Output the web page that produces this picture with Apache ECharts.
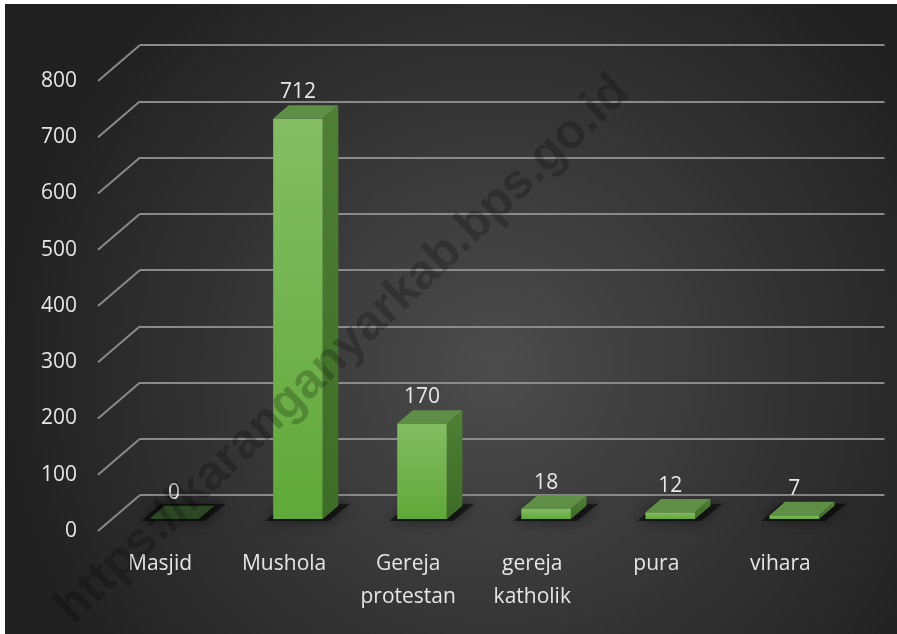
<!DOCTYPE html>
<html>
<head>
<meta charset="utf-8">
<script src="https://cdn.jsdelivr.net/npm/echarts@6/dist/echarts.min.js"></script>
<style>
  html, body { margin: 0; padding: 0; background: #fff; }
  #chart { position: absolute; left: 5px; top: 4px; width: 892px; height: 630px; }
</style>
</head>
<body>
<div id="chart"></div>
<script>
// data
const categories = ['Masjid', 'Mushola', 'Gereja\nprotestan', 'gereja\nkatholik', 'pura', 'vihara'];
const values = [0, 712, 170, 18, 12, 7];
const yTicks = [0, 100, 200, 300, 400, 500, 600, 700, 800];

// 3D look: depth vector from back wall to front edge
const DX = -42, DY = 36;
const F_FRONT = 0.67, F_BACK = 0.3;
const BAR_W = 0.4;
const FONT = 'Open Sans';

const chart = echarts.init(document.getElementById('chart'));

function renderBar(params, api) {
  const i = api.value(0), v = api.value(1);
  const top = api.coord([i, v]);
  const base = api.coord([i, 0]);
  const hw = api.size([1, 0])[0] * BAR_W / 2;
  const fx = DX * F_FRONT, fy = DY * F_FRONT;
  const bx = DX * F_BACK, by = DY * F_BACK;
  const xl = top[0] - hw, xr = top[0] + hw;
  const children = [];
  // soft shadow on the floor
  children.push({
    type: 'polygon',
    shape: { points: [[xl + fx - 8, base[1] + fy + 2], [xr + fx + 6, base[1] + fy + 2], [xr + bx + 12, base[1] + by - 2], [xl + bx - 4, base[1] + by - 2]] },
    style: { fill: 'rgba(0,0,0,0.55)', shadowBlur: 14, shadowColor: 'rgba(0,0,0,0.9)' }
  });
  if (v > 0) {
    children.push({
      type: 'rect',
      shape: { x: xl + fx, y: top[1] + fy, width: hw * 2, height: base[1] - top[1] },
      style: { fill: new echarts.graphic.LinearGradient(0, 0, 0, 1, [
        { offset: 0, color: '#84bd63' }, { offset: 1, color: '#60a839' }]) }
    });
    children.push({
      type: 'polygon',
      shape: { points: [[xr + fx, base[1] + fy], [xr + fx, top[1] + fy], [xr + bx, top[1] + by], [xr + bx, base[1] + by]] },
      style: { fill: new echarts.graphic.LinearGradient(0, 0, 0, 1, [
        { offset: 0, color: '#4f8036' }, { offset: 1, color: '#3d6c26' }]) }
    });
  }
  children.push({
    type: 'polygon',
    shape: { points: [[xl + fx, top[1] + fy], [xr + fx, top[1] + fy], [xr + bx, top[1] + by], [xl + bx, top[1] + by]] },
    style: { fill: v > 0 ? '#5f8e47' : '#2c4723' }
  });
  children.push({
    type: 'text',
    style: {
      x: top[0] + fx, y: top[1] + by - 13, text: String(v),
      align: 'center', verticalAlign: 'middle',
      fill: '#e8e8e8', fontFamily: FONT, fontSize: 21
    }
  });
  return { type: 'group', children: children };
}

function renderDiag(params, api) {
  const y = api.coord([0, api.value(1)])[1];
  const x = params.coordSys.x;
  return {
    type: 'line',
    shape: { x1: x, y1: y, x2: x + DX, y2: y + DY },
    style: { stroke: '#8a8a8a', lineWidth: 2 }
  };
}

chart.setOption({
  backgroundColor: {
    type: 'radial', x: 0.55, y: 0.58, r: 0.8,
    colorStops: [{ offset: 0, color: '#4c4c4c' }, { offset: 1, color: '#202020' }]
  },
  animation: false,
  grid: [
    // back wall
    { left: 135, right: 4, top: 41, height: 450 },
    // front edge, only carries the value labels
    { left: 135 + DX, right: 4 - DX, top: 41 + DY, height: 450 }
  ],
  xAxis: [{
    type: 'category',
    data: categories,
    axisLine: { show: false },
    axisTick: { show: false },
    axisLabel: {
      color: '#e6e6e6', fontFamily: FONT, fontSize: 21, lineHeight: 33,
      margin: 53, padding: [0, 84, 0, 0], interval: 0
    }
  }, {
    type: 'category', gridIndex: 1, data: categories, show: false
  }],
  yAxis: [{
    type: 'value',
    min: 0, max: 800, interval: 100,
    axisLine: { show: false },
    axisTick: { show: false },
    axisLabel: { show: false },
    splitLine: { lineStyle: { color: '#8a8a8a', width: 2 } }
  }, {
    type: 'value', gridIndex: 1,
    min: 0, max: 800, interval: 100,
    axisLine: { show: false },
    axisTick: { show: false },
    splitLine: { show: false },
    axisLabel: {
      color: '#e6e6e6', fontFamily: FONT, fontSize: 21, margin: 21,
      showMinLabel: true, showMaxLabel: true
    }
  }],
  graphic: [{
    type: 'text',
    x: 338, y: 346, rotation: 0.76, z: 100, silent: true,
    style: {
      text: 'https://karanganyarkab.bps.go.id',
      x: 0, y: 0, align: 'center', verticalAlign: 'middle',
      fill: 'rgba(0,0,0,0.22)', fontFamily: 'Liberation Sans', fontWeight: 'bold', fontSize: 49
    }
  }],
  series: [
    {
      type: 'custom',
      renderItem: renderDiag,
      data: yTicks.map(t => [0, t]),
      encode: { x: 0, y: 1 },
      silent: true
    },
    {
      type: 'custom',
      renderItem: renderBar,
      data: values.map((v, i) => [i, v]),
      encode: { x: 0, y: 1 }
    }
  ]
});
</script>
</body>
</html>
